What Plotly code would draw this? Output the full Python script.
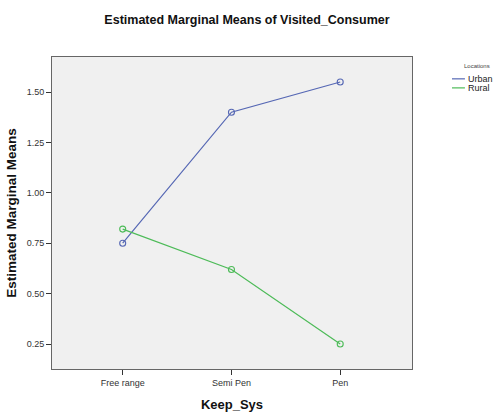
import plotly.graph_objects as go

# Estimated marginal means
keep_sys = ["Free range", "Semi Pen", "Pen"]
urban_means = [0.75, 1.40, 1.55]
rural_means = [0.82, 0.62, 0.25]

y_ticks = [0.25, 0.50, 0.75, 1.00, 1.25, 1.50]
y_tick_labels = ["0.25", "0.50", "0.75", "1.00", "1.25", "1.50"]

series_names = ["Urban", "Rural"]
series_colors = ["#5567b4", "#4dbb58"]
font_family = "Liberation Sans, Arial, sans-serif"

fig = go.Figure()

for name, means, color in zip(series_names, [urban_means, rural_means], series_colors):
    fig.add_trace(
        go.Scatter(
            x=keep_sys,
            y=means,
            mode="lines+markers",
            name=name,
            line=dict(color=color, width=1.2),
            marker=dict(symbol="circle-open", size=6, color=color, line=dict(width=1.1)),
        )
    )

fig.update_layout(
    width=502,
    height=412,
    margin=dict(l=52, r=90, t=57, b=43),
    paper_bgcolor="white",
    plot_bgcolor="#f0f0f0",
    font=dict(family=font_family, color="#222222"),
    title=dict(
        text="<b>Estimated Marginal Means of Visited_Consumer</b>",
        x=0.492,
        xanchor="center",
        y=0.952,
        yanchor="middle",
        font=dict(size=12.5, color="#111111"),
    ),
    # SPSS-style legend (short line swatches, tight rows) is drawn by hand below
    showlegend=False,
)

# legend: title, then one short line + label per series
fig.add_annotation(
    text="Locations", xref="paper", yref="paper", x=1.181, y=0.971,
    xanchor="center", yanchor="middle", showarrow=False,
    font=dict(size=6, color="#444444"),
)
legend_rows = [0.930, 0.901]
for name, color, ly in zip(series_names, series_colors, legend_rows):
    fig.add_shape(
        type="line", xref="paper", yref="paper",
        x0=1.111, x1=1.147, y0=ly, y1=ly,
        line=dict(color=color, width=1.2),
    )
    fig.add_annotation(
        text=name, xref="paper", yref="paper", x=1.150, y=ly,
        xanchor="left", yanchor="middle", showarrow=False,
        font=dict(size=9, color="#222222"),
    )

fig.update_xaxes(
    type="category",
    range=[-0.65, 2.66],
    automargin=False,
    showgrid=False,
    zeroline=False,
    showline=True,
    linecolor="#666666",
    linewidth=1,
    mirror=True,
    ticks="outside",
    ticklen=5,
    tickcolor="#333333",
    tickfont=dict(size=9, color="#333333"),
    title=dict(text="<b>Keep_Sys</b>", font=dict(size=13, color="#111111"), standoff=14),
)

fig.update_yaxes(
    range=[0.126, 1.674],
    automargin=False,
    tickvals=y_ticks,
    ticktext=y_tick_labels,
    showgrid=False,
    zeroline=False,
    showline=True,
    linecolor="#666666",
    linewidth=1,
    mirror=True,
    ticks="outside",
    ticklen=5,
    tickcolor="#333333",
    tickfont=dict(size=9, color="#333333"),
    title=dict(text="<b>Estimated Marginal Means</b>", font=dict(size=13.5, color="#111111"), standoff=6),
)

# drop the default page margin so the figure sits at the window's corner
fig.write_html(
    "out.html",
    config={"displayModeBar": False},
    post_script="document.body.style.margin='0px';",
)
